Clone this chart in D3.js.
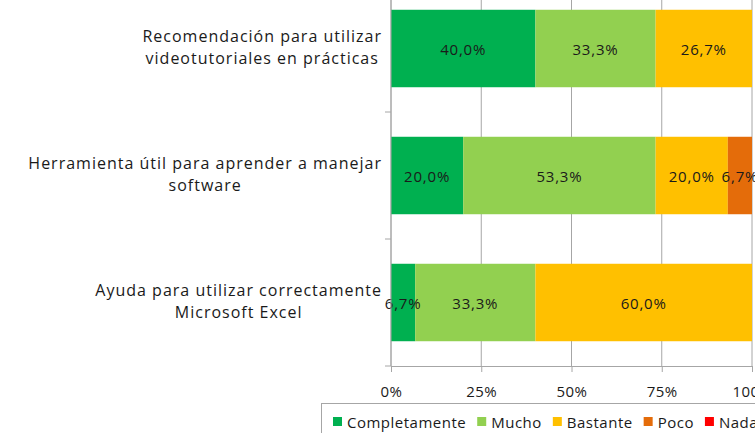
<!DOCTYPE html>
<html>
<head>
<meta charset="utf-8">
<script src="https://cdn.jsdelivr.net/npm/d3@7"></script>
<style>
  body { margin: 0; background: #fff; }
  text { font-family: "Open Sans", sans-serif; fill: #1a1a1a; }
</style>
</head>
<body>
<div id="chart"></div>
<script>
let width = 755,
    height = 433;

// categories, top to bottom (each label split into its wrapped lines)
const categories = [
  ["Recomendación para utilizar", "videotutoriales en prácticas"],
  ["Herramienta útil para aprender a manejar", "software"],
  ["Ayuda para utilizar correctamente", "Microsoft Excel"]
];
const seriesNames = ["Completamente", "Mucho", "Bastante", "Poco", "Nada"];
const seriesColors = ["#00b050", "#92d050", "#ffc000", "#e46c0a", "#ff0000"];
// percentages per series, one value per category
const completamente = [40.0, 20.0, 6.7];
const mucho = [33.3, 53.3, 33.3];
const bastante = [26.7, 20.0, 60.0];
const poco = [0, 6.7, 0];
const nada = [0, 0, 0];
const xTicks = [0, 25, 50, 75, 100];

const seriesValues = [completamente, mucho, bastante, poco, nada];
const catKeys = categories.map(c => c.join(" "));

const svg = d3.select("#chart")
  .append("svg")
  .attr("width", width)
  .attr("height", height)
  .attr("viewBox", [0, 0, width, height]);

let x = d3.scaleLinear()
  .domain([0, 100])
  .range([391, 752]);

let y = d3.scaleBand()
  .domain(catKeys)
  .range([-15, 366])
  .paddingInner(0.39)
  .paddingOuter(0.195);

const axisY = 366;

// vertical gridlines
svg.append("g")
  .selectAll("line")
  .data(xTicks)
  .join("line")
  .attr("x1", d => x(d)).attr("x2", d => x(d))
  .attr("y1", 0).attr("y2", axisY)
  .attr("stroke", "#a6a6a6")
  .attr("stroke-width", 1);

// stacked bars
let rows = catKeys.map((k, i) => {
  let acc = 0;
  return seriesNames.map((s, j) => {
    let v = seriesValues[j][i];
    let seg = { cat: k, series: j, x0: acc, x1: acc + v, value: v };
    acc += v;
    return seg;
  });
}).flat();

svg.append("g")
  .selectAll("rect")
  .data(rows.filter(d => d.value > 0))
  .join("rect")
  .attr("x", d => x(d.x0))
  .attr("width", d => x(d.x1) - x(d.x0))
  .attr("y", d => y(d.cat))
  .attr("height", y.bandwidth())
  .attr("fill", d => seriesColors[d.series]);

svg.append("g")
  .selectAll("text")
  .data(rows.filter(d => d.value > 0))
  .join("text")
  .attr("x", d => (x(d.x0) + x(d.x1)) / 2)
  .attr("y", d => y(d.cat) + y.bandwidth() / 2)
  .attr("text-anchor", "middle")
  .attr("dominant-baseline", "central")
  .style("font-size", "15px")
  .style("letter-spacing", "0.8px")
  .text(d => d.value.toFixed(1).replace(".", ",") + "%");

// x axis
let xAxis = svg.append("g")
  .attr("transform", `translate(0,${axisY})`)
  .call(d3.axisBottom(x).tickValues(xTicks).tickFormat(d => d + "%").tickSize(6).tickSizeOuter(0));
xAxis.select(".domain").attr("stroke", "#a6a6a6");
xAxis.selectAll(".tick line").attr("stroke", "#a6a6a6");
xAxis.selectAll(".tick text")
  .attr("y", 20)
  .style("font-family", "'Open Sans', sans-serif")
  .style("font-size", "15px")
  .style("letter-spacing", "0.5px")
  .attr("fill", "#1a1a1a");

// y axis line with ticks at band boundaries
svg.append("line")
  .attr("x1", 391).attr("x2", 391)
  .attr("y1", 0).attr("y2", axisY)
  .attr("stroke", "#a6a6a6");
let bounds = catKeys.map(k => y(k) + y.bandwidth() + y.step() * y.paddingInner() / 2);
svg.append("g")
  .selectAll("line")
  .data(bounds)
  .join("line")
  .attr("x1", 385).attr("x2", 391)
  .attr("y1", d => d).attr("y2", d => d)
  .attr("stroke", "#a6a6a6");

// category labels: lines centred, block right aligned
const labelRight = 382, lineH = 22;
categories.forEach((lines, i) => {
  let g = svg.append("g");
  let cy = y(catKeys[i]) + y.bandwidth() / 2 - 2;
  let texts = lines.map((t, j) => g.append("text")
    .attr("y", cy + (j - (lines.length - 1) / 2) * lineH)
    .attr("dominant-baseline", "central")
    .attr("text-anchor", "middle")
    .style("font-size", "16px")
    .style("letter-spacing", "1px")
    .text(t));
  let maxW = d3.max(texts, t => t.node().getComputedTextLength());
  texts.forEach(t => t.attr("x", labelRight - maxW / 2));
});

// legend
let legend = svg.append("g");
legend.append("rect")
  .attr("x", 321.5).attr("y", 403.5)
  .attr("width", 500).attr("height", 60)
  .attr("fill", "#fff")
  .attr("stroke", "#a6a6a6");
let lx = 333;
seriesNames.forEach((name, i) => {
  legend.append("rect")
    .attr("x", lx).attr("y", 417)
    .attr("width", 9).attr("height", 9)
    .attr("fill", seriesColors[i]);
  let t = legend.append("text")
    .attr("x", lx + 14).attr("y", 422)
    .attr("dominant-baseline", "central")
    .style("font-size", "15px")
    .style("letter-spacing", "0.5px")
    .text(name);
  lx += 14 + t.node().getComputedTextLength() + 11;
});
</script>
</body>
</html>
